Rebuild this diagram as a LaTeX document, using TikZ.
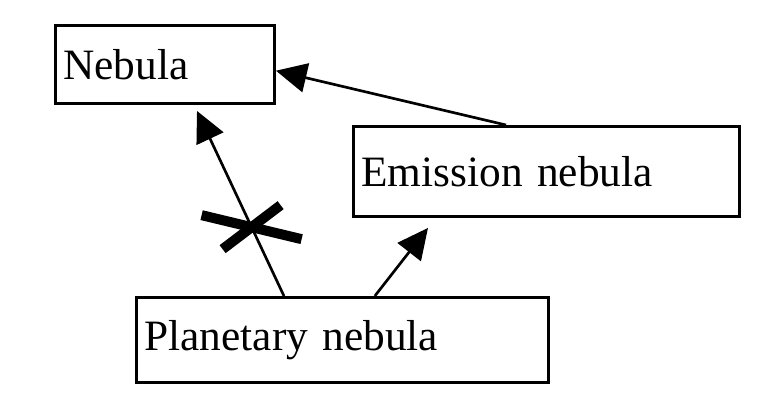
\documentclass[tikz,border=0pt]{standalone}
\usepackage{fontspec}
\setmainfont{Liberation Serif}
\usetikzlibrary{arrows.meta,calc}
\tikzset{
  box/.style={draw, line width=2.2pt, rectangle, anchor=north west, align=left,
    inner xsep=6pt, inner ysep=0pt, font=\fontsize{32.5}{37}\selectfont},
  conn/.style={line width=2pt, -{Triangle[length=23pt,width=22pt]}},
  xbar/.style={line width=7.5pt, line cap=butt}
}
\begin{document}
\begin{tikzpicture}[x=0.75pt,y=-0.75pt]
\useasboundingbox (0,0) rectangle (781,410);
\node[box, minimum width=219*0.75pt, minimum height=78*0.75pt, text width=219*0.75pt-12pt] (nebula) at (54,24) {Nebula};
\node[box, minimum width=386*0.75pt, minimum height=90*0.75pt, text width=386*0.75pt-12pt] (emission) at (352,125) {Emission nebula};
\node[box, minimum width=412*0.75pt, minimum height=85*0.75pt, text width=412*0.75pt-12pt] (planetary) at (135,296) {Planetary nebula};
% connectors
\coordinate (pA) at ($(planetary.north west)!0.359!(planetary.north east)$);
\coordinate (pB) at ($(planetary.north west)!0.578!(planetary.north east)$);
\coordinate (tN) at ($(nebula.south west)+(143,6)$);
\coordinate (tE) at ($(emission.south west)+(76,10)$);
\coordinate (eT) at ($(emission.north west)!0.396!(emission.north east)$);
\coordinate (nR) at ($(nebula.north east)!0.577!(nebula.south east)$);
\draw[conn] (eT) -- (nR);
\draw[conn] (pA) -- (tN);
\draw[conn] (pB) -- (tE);
% cross on the planetary -> nebula link
\coordinate (cross) at ($(pA)!0.372!(tN)$);
\draw[xbar] ($(cross)+(-50,-12)$) -- ($(cross)+(50,12)$);
\draw[xbar] ($(cross)+(-29,22)$) -- ($(cross)+(29,-22)$);
\end{tikzpicture}
\end{document}
